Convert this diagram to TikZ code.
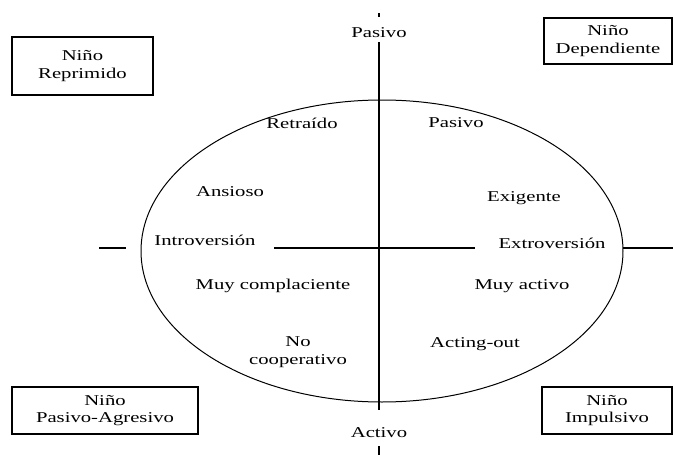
\documentclass[tikz,border=0pt]{standalone}
\usepackage{fontspec}
\setmainfont[FakeStretch=1.38]{Liberation Serif}
\begin{document}
\begin{tikzpicture}[x=1pt,y=-1pt,
  lbl/.style={inner sep=0pt,font=\fontsize{15}{17.5}\selectfont,align=center},
  box/.style={draw,line width=1.3pt,inner sep=0pt,font=\fontsize{15}{17.5}\selectfont,align=center},
  axis/.style={line width=1.2pt},
  oval/.style={line width=1pt}]
\useasboundingbox (0,0) rectangle (673,455);
% ellipse
\draw[oval] (382,251) ellipse [x radius=241, y radius=151];
% axis coordinates
\coordinate (vt) at (379,42);
\coordinate (vb) at (379,410);
\coordinate (tt1) at (379,13);
\coordinate (tt2) at (379,17);
\coordinate (bt1) at (379,446);
\coordinate (bt2) at (379,455);
\coordinate (hl1) at (99,248);
\coordinate (hl2) at (126,248);
\coordinate (hc1) at (274,248);
\coordinate (hc2) at (475,248);
\coordinate (hr1) at (623,248);
\coordinate (hr2) at (673,248);
\draw[axis] (vt) -- (vb);
\draw[axis] (tt1) -- (tt2);
\draw[axis] (bt1) -- (bt2);
\draw[axis] (hl1) -- (hl2);
\draw[axis] (hc1) -- (hc2);
\draw[axis] (hr1) -- (hr2);
% labels
\node[lbl] (ptop) at (379,33) {Pasivo};
\node[lbl] (pbot) at (379,433) {Activo};
\node[lbl] (retraido) at (302,123) {Retraído};
\node[lbl] (pasivo) at (456,123) {Pasivo};
\node[lbl] (ansioso) at (230,192) {Ansioso};
\node[lbl] (exigente) at (524,198) {Exigente};
\node[lbl] (intro) at (205,240) {Introversión};
\node[lbl] (extro) at (552,243) {Extroversión};
\node[lbl] (complac) at (273,286) {Muy complaciente};
\node[lbl] (activo) at (522,286) {Muy activo};
\node[lbl] (nocoop) at (298,352) {No\\cooperativo};
\node[lbl] (acting) at (475,344) {Acting-out};
% boxes
\node[box,minimum width=141pt,minimum height=58pt] (reprim) at (82.5,66) {Niño\\Reprimido};
\node[box,minimum width=128pt,minimum height=46pt] (depend) at (608,41) {Niño\\Dependiente};
\node[box,minimum width=186pt,minimum height=47pt] (pasag) at (105,410.5) {Niño\\Pasivo-Agresivo};
\node[box,minimum width=130pt,minimum height=47pt] (impuls) at (607,410.5) {Niño\\Impulsivo};
\end{tikzpicture}
\end{document}
